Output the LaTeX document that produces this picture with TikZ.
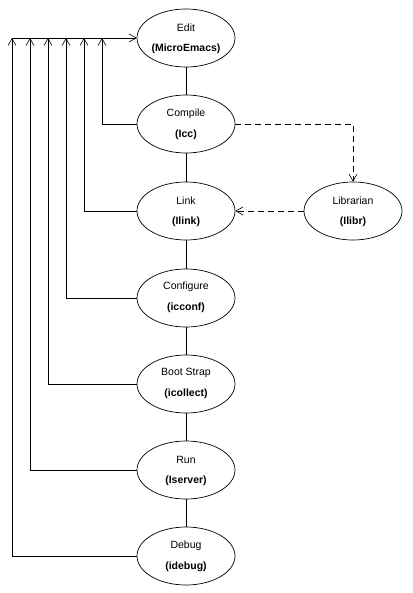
\documentclass[tikz,border=0pt]{standalone}
\usepackage{fontspec}
\setmainfont{Liberation Sans}
\usetikzlibrary{shapes.geometric,arrows.meta}
\begin{document}
\begin{tikzpicture}[x=1pt,y=-1pt,
  line width=0.7pt,
  proc/.style={draw, ellipse, minimum width=98pt, minimum height=58pt, inner sep=0pt},
  lbl/.style={font=\fontsize{10.5}{12}\selectfont, inner sep=0pt},
  blbl/.style={font=\fontsize{10.5}{12}\selectfont\bfseries, inner sep=0pt},
  arr/.style={-{Straight Barb[length=7pt,width=8pt,line width=0.6pt]}},
  dsh/.style={dash pattern=on 6pt off 4pt}]
\useasboundingbox (0,0) rectangle (412,593);
% ellipses
\node[proc] (edit) at (186,38) {};
\node[proc] (compile) at (186,124) {};
\node[proc] (link) at (186,211) {};
\node[proc] (librarian) at (353,211) {};
\node[proc] (configure) at (186,298) {};
\node[proc] (boot) at (186,384) {};
\node[proc] (run) at (186,470) {};
\node[proc] (debug) at (186,556) {};
% labels
\node[lbl] (edit-a) at (186,28) {Edit};
\node[blbl] (edit-b) at (186,49) {(MicroEmacs)};
\node[lbl] (compile-a) at (186,114) {Compile};
\node[blbl] (compile-b) at (186,135) {(Icc)};
\node[lbl] (link-a) at (186,201) {Link};
\node[blbl] (link-b) at (186,222) {(Ilink)};
\node[lbl] (librarian-a) at (353,201) {Librarian};
\node[blbl] (librarian-b) at (353,222) {(Ilibr)};
\node[lbl] (configure-a) at (186,287) {Configure};
\node[blbl] (configure-b) at (186,308) {(icconf)};
\node[lbl] (boot-a) at (186,373) {Boot Strap};
\node[blbl] (boot-b) at (186,394) {(icollect)};
\node[lbl] (run-a) at (186,460) {Run};
\node[blbl] (run-b) at (186,481) {(Iserver)};
\node[lbl] (debug-a) at (186,546) {Debug};
\node[blbl] (debug-b) at (186,567) {(idebug)};
% chain
\draw (edit) -- (compile);
\draw (compile) -- (link);
\draw (link) -- (configure);
\draw (configure) -- (boot);
\draw (boot) -- (run);
\draw (run) -- (debug);
% feedback lines
\coordinate (t0) at (12,38);
\coordinate (t1) at (30,38);
\coordinate (t2) at (48,38);
\coordinate (t3) at (66,38);
\coordinate (t4) at (84,38);
\coordinate (t5) at (102,38);
\draw[arr] (t0) -- (edit.west);
\draw[arr] (compile.west) -| (t5);
\draw[arr] (link.west) -| (t4);
\draw[arr] (configure.west) -| (t3);
\draw[arr] (boot.west) -| (t2);
\draw[arr] (run.west) -| (t1);
\draw[arr] (debug.west) -| (t0);
% librarian
\draw[arr,dsh] (compile.east) -| (librarian.north);
\draw[arr,dsh] (librarian.west) -- (link.east);
\end{tikzpicture}
\end{document}
